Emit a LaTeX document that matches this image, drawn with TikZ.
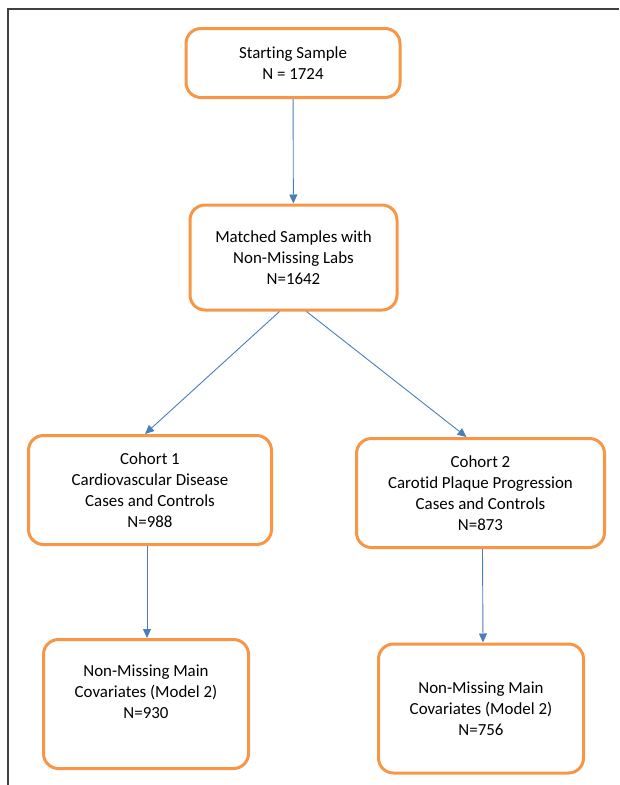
\documentclass[tikz,border=0pt]{standalone}
\usepackage{fontspec}
\setmainfont[Ligatures=NoCommon]{Carlito}
\usepackage{tikz}
\usetikzlibrary{arrows.meta,calc,positioning}
\definecolor{boxorange}{HTML}{F79646}
\definecolor{arrowblue}{HTML}{4A7EBB}
\tikzset{
  box/.style={draw=boxorange, line width=3pt, rounded corners=15pt, align=center,
    font=\fontsize{16.9}{21.2}\selectfont, inner sep=0pt},
  arr/.style={draw=arrowblue, line width=0.9pt, -{Triangle[length=9pt,width=8pt]}}
}

\begin{document}
\begin{tikzpicture}[x=1pt,y=-1pt]
\useasboundingbox (0,0) rectangle (619,785);
\draw[line width=1.6pt, black!75] (8,785) -- (8,9) -- (619,9);
\node[box, minimum width=214pt, minimum height=69pt] (A) at (293,63) {Starting Sample\\N = 1724};
\node[box, minimum width=207pt, minimum height=105pt] (B) at (293.5,257.5) {Matched Samples with\\Non-Missing Labs\\N=1642};
\node[box, minimum width=243pt, minimum height=109pt] (C) at (150,490) {Cohort 1\\Cardiovascular Disease\\Cases and Controls\\N=988};
\node[box, minimum width=248pt, minimum height=109pt] (D) at (480.5,493) {Cohort 2\\Carotid Plaque Progression\\Cases and Controls\\N=873};
\node[box, minimum width=205pt, minimum height=129pt] (E) at (146,704) {Non-Missing Main\\Covariates (Model 2)\\N=930\\[4pt]};
\node[box, minimum width=205pt, minimum height=129pt] (F) at (481,708.5) {Non-Missing Main\\Covariates (Model 2)\\N=756};
\draw[arr] (A) -- (B);
\draw[arr] ($(B.south)+(-14,0)$) -- ($(C.north)+(-5,0)$);
\draw[arr] ($(B.south)+(13,0)$) -- ($(D.north)+(-14,0)$);
\draw[arr] ($(C.south)+(-3,0)$) -- ($(E.north)+(1,0)$);
\draw[arr] ($(D.south)+(2,0)$) -- ($(F.north)+(2,0)$);
\end{tikzpicture}
\end{document}
